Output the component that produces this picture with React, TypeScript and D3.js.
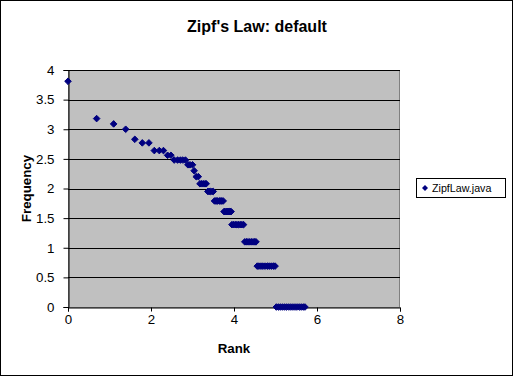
import React, { useEffect, useRef } from 'react';
import * as d3 from 'd3';

const title = "Zipf's Law: default";
const seriesName = 'ZipfLaw.java';
const xLabel = 'Rank';
const yLabel = 'Frequency';
const xTicks = [0, 2, 4, 6, 8];
const yTicks = [0, 0.5, 1, 1.5, 2, 2.5, 3, 3.5, 4];

// log frequency levels and the log ranks sitting on each level
const frequencyLevels = [3.81, 3.18, 3.09, 3.0, 2.83, 2.77, 2.64, 2.56, 2.48, 2.4, 2.3, 2.2, 2.08, 1.95, 1.79, 1.61, 1.39, 1.1, 0.69, 0];
const ranksAtLevel = [
    [0],
    [0.69],
    [1.1],
    [1.39],
    [1.61],
    [1.79, 1.95],
    [2.08, 2.2, 2.3],
    [2.4, 2.48],
    [2.56, 2.64, 2.71, 2.77, 2.83],
    [2.89, 2.94, 3.0],
    [3.04],
    [3.09, 3.14],
    [3.18, 3.22, 3.26, 3.3, 3.33],
    [3.37, 3.4, 3.43, 3.47, 3.5],
    [3.53, 3.56, 3.58, 3.61, 3.64, 3.66, 3.69, 3.71, 3.74],
    [3.76, 3.78, 3.81, 3.83, 3.85, 3.87, 3.89, 3.91, 3.93],
    [3.95, 3.99, 4.03, 4.07, 4.11, 4.15, 4.19, 4.23],
    [4.26, 4.3, 4.34, 4.38, 4.42, 4.46, 4.5, 4.53],
    [4.56, 4.6, 4.65, 4.7, 4.75, 4.8, 4.85, 4.9, 4.95, 4.99],
    [5.02, 5.07, 5.12, 5.17, 5.22, 5.27, 5.32, 5.37, 5.42, 5.47, 5.52, 5.57, 5.62, 5.67, 5.71],
];

const FONT = "Arial, 'Liberation Sans', sans-serif";
const NAVY = '#000080';

const diamond = (r: number) => `M0,${-r}L${r},0L0,${r}L${-r},0Z`;

const App = () => {
    const ref = useRef<SVGSVGElement | null>(null);

    useEffect(() => {
        if (!ref.current) return;
        const width = 514, height = 377;
        const plot = { left: 68, right: 400, top: 70, bottom: 307 };

        const svg = d3.select(ref.current);
        svg.selectAll('*').remove();
        svg.attr('width', width).attr('height', height);

        // chart background + frame
        svg.append('rect')
            .attr('x', 0.5).attr('y', 0.5)
            .attr('width', width - 2).attr('height', height - 2)
            .attr('fill', '#fff').attr('stroke', '#000');

        const x = d3.scaleLinear().domain([0, 8]).range([plot.left, plot.right]);
        const y = d3.scaleLinear().domain([0, 4]).range([plot.bottom, plot.top]);

        // plot area
        svg.append('rect')
            .attr('x', plot.left + 0.5).attr('y', plot.top + 0.5)
            .attr('width', plot.right - plot.left - 1).attr('height', plot.bottom - plot.top)
            .attr('fill', '#c0c0c0').attr('stroke', '#808080');

        // gridlines
        svg.append('g')
            .selectAll('line')
            .data(yTicks.filter(d => d > 0))
            .enter().append('line')
            .attr('x1', plot.left).attr('x2', plot.right)
            .attr('y1', d => Math.round(y(d)) + 0.5).attr('y2', d => Math.round(y(d)) + 0.5)
            .attr('stroke', '#000');

        // axes
        const yAxis = svg.append('g')
            .attr('transform', `translate(${plot.left + 0.5},0)`)
            .call(d3.axisLeft(y).tickValues(yTicks).tickSize(5).tickPadding(9).tickFormat(d => String(d)));
        const xAxis = svg.append('g')
            .attr('transform', `translate(0,${plot.bottom + 0.5})`)
            .call(d3.axisBottom(x).tickValues(xTicks).tickSize(4).tickPadding(3).tickFormat(d => String(d)));

        [yAxis, xAxis].forEach(a => {
            a.selectAll('path').attr('stroke', '#000');
            a.selectAll('line').attr('stroke', '#000');
            a.selectAll('text')
                .attr('fill', '#000')
                .style('font-family', FONT)
                .style('font-size', '13.3px');
        });

        // points
        const points = frequencyLevels.flatMap((f, i) => ranksAtLevel[i].map(r => ({ r, f })));
        svg.append('g')
            .selectAll('path')
            .data(points)
            .enter().append('path')
            .attr('d', diamond(3.3))
            .attr('transform', d => `translate(${x(d.r)},${y(d.f)})`)
            .attr('fill', NAVY)
            .attr('stroke', NAVY)
            .attr('stroke-width', 1);

        // titles
        svg.append('text')
            .attr('x', width / 2).attr('y', 32)
            .attr('text-anchor', 'middle')
            .style('font-family', FONT).style('font-size', '16px').style('font-weight', 'bold')
            .text(title);

        svg.append('text')
            .attr('x', (plot.left + plot.right) / 2).attr('y', 353)
            .attr('text-anchor', 'middle')
            .style('font-family', FONT).style('font-size', '13.3px').style('font-weight', 'bold')
            .text(xLabel);

        svg.append('text')
            .attr('transform', `translate(31,${(plot.top + plot.bottom) / 2}) rotate(-90)`)
            .attr('text-anchor', 'middle')
            .style('font-family', FONT).style('font-size', '13.3px').style('font-weight', 'bold')
            .text(yLabel);

        // legend
        const legend = svg.append('g').attr('transform', 'translate(416,178)');
        legend.append('rect')
            .attr('x', 0.5).attr('y', 0.5).attr('width', 89).attr('height', 19)
            .attr('fill', '#fff').attr('stroke', '#000');
        legend.append('path')
            .attr('d', diamond(3))
            .attr('transform', 'translate(9,10)')
            .attr('fill', NAVY);
        legend.append('text')
            .attr('x', 16).attr('y', 14)
            .style('font-family', FONT).style('font-size', '10.7px')
            .text(seriesName);
    }, []);

    return <svg ref={ref} style={{ position: 'absolute', left: 0, top: 0 }} />;
};

export default App;
